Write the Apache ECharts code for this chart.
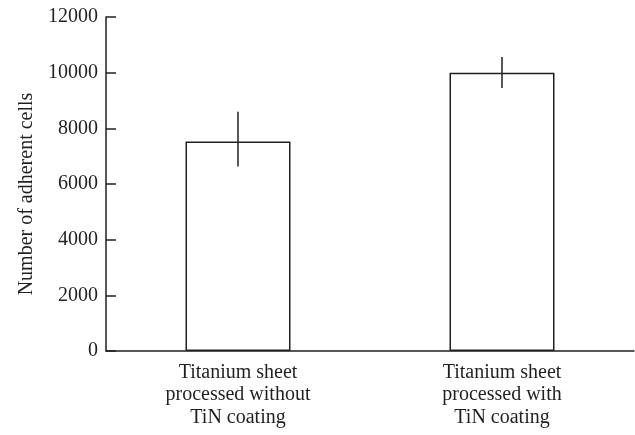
<!DOCTYPE html>
<html>
<head>
<meta charset="utf-8">
<script src="https://cdn.jsdelivr.net/npm/echarts@6/dist/echarts.min.js"></script>
<style>
html,body{margin:0;padding:0;background:#fff;}
#chart{width:635px;height:435px;}
</style>
</head>
<body>
<div id="chart"></div>
<script>
const categories = ['Titanium sheet\nprocessed without\nTiN coating', 'Titanium sheet\nprocessed with\nTiN coating'];
const means = [7530, 10000];
const errLow = [6630, 9450];
const errHigh = [8600, 10560];
const yTicks = [0, 2000, 4000, 6000, 8000, 10000, 12000];

const FONT = '"Liberation Serif", "DejaVu Serif", serif';
const INK = '#231f20';

const chart = echarts.init(document.getElementById('chart'), null, {renderer: 'canvas'});
chart.setOption({
  animation: false,
  backgroundColor: '#fff',
  grid: {left: 106, right: 1, top: 17, bottom: 84},
  xAxis: {
    type: 'category',
    data: categories,
    axisLine: {show: true, lineStyle: {color: INK, width: 1.5}},
    axisTick: {show: false},
    axisLabel: {color: INK, fontFamily: FONT, fontSize: 20, lineHeight: 22.5, margin: 10, interval: 0}
  },
  yAxis: {
    type: 'value',
    min: yTicks[0],
    max: yTicks[yTicks.length - 1],
    interval: 2000,
    name: 'Number of adherent cells',
    nameLocation: 'middle',
    nameGap: 60,
    nameRotate: 90,
    nameTextStyle: {color: INK, fontFamily: FONT, fontSize: 20, padding: [0, 20, 0, 0]},
    axisLine: {show: true, lineStyle: {color: INK, width: 1.5}},
    axisTick: {show: true, inside: true, length: 10, lineStyle: {color: INK, width: 1.5}},
    axisLabel: {color: INK, fontFamily: FONT, fontSize: 20, margin: 8, formatter: v => String(v)},
    splitLine: {show: false}
  },
  series: [
    {
      type: 'bar',
      data: means,
      barWidth: 105,
      itemStyle: {color: '#fff', borderColor: INK, borderWidth: 1.5},
      z: 2
    },
    {
      type: 'custom',
      data: categories.map((c, i) => [i, errLow[i], errHigh[i]]),
      renderItem: function (params, api) {
        const lo = api.coord([api.value(0), api.value(1)]);
        const hi = api.coord([api.value(0), api.value(2)]);
        return {
          type: 'line',
          shape: {x1: lo[0], y1: lo[1], x2: hi[0], y2: hi[1]},
          style: {stroke: INK, lineWidth: 1.5}
        };
      },
      z: 3
    }
  ]
});
</script>
</body>
</html>
